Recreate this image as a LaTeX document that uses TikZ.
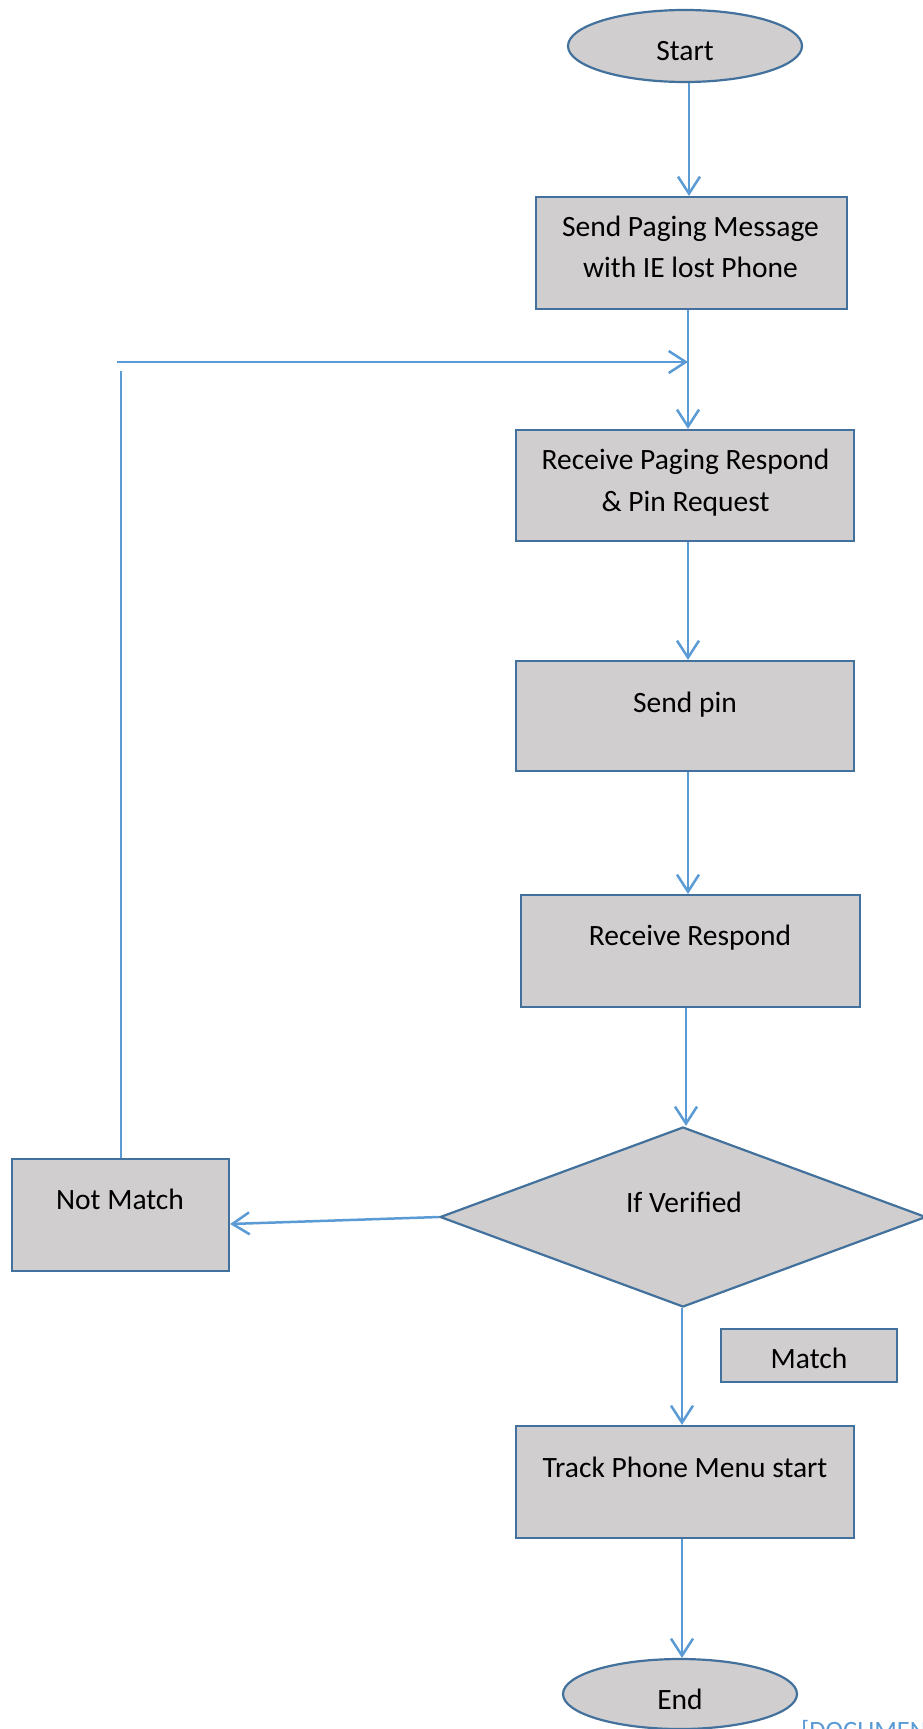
\documentclass[tikz,border=0pt]{standalone}
\usepackage{fontspec}
\setmainfont{Carlito}
\usetikzlibrary{arrows.meta,shapes.geometric}
\definecolor{connblue}{HTML}{5B9BD5}
\definecolor{edgeblue}{HTML}{41719C}
\definecolor{boxfill}{HTML}{D0CECE}
\begin{document}
\begin{tikzpicture}[x=1pt,y=1pt,
  box/.style={rectangle,draw=edgeblue,fill=boxfill,line width=2.2pt,inner sep=0pt},
  oval/.style={ellipse,draw=edgeblue,fill=boxfill,line width=2.2pt,inner sep=0pt},
  decision/.style={diamond,draw=edgeblue,fill=boxfill,line width=2.2pt,inner sep=0pt},
  txt/.style={font=\fontsize{29.5}{41}\selectfont,inner sep=0pt,anchor=base},
  link/.style={draw=connblue,line width=2.5pt},
  arr/.style={link,-{Straight Barb[length=17pt,width=22pt]}},
  thin/.style={draw=connblue,line width=1.3pt}]
\path[use as bounding box] (0,0) rectangle (923,-1729);
\clip (0,0) rectangle (923,-1729);

% shapes
\node[oval,minimum width=234,minimum height=72] (start) at (685,-46) {};
\node[box,minimum width=311,minimum height=112] (box1) at (691.5,-253) {};
\node[box,minimum width=338,minimum height=111] (box2) at (685,-485.5) {};
\node[box,minimum width=338,minimum height=110] (box3) at (685,-716) {};
\node[box,minimum width=339,minimum height=112] (box4) at (690.5,-951) {};
\node[decision,minimum width=486,minimum height=180] (dec) at (683,-1217) {};
\node[box,minimum width=217,minimum height=112] (notmatch) at (120.5,-1215) {};
\node[box,minimum width=176,minimum height=53] (match) at (809,-1355.5) {};
\node[box,minimum width=338,minimum height=112] (track) at (685,-1482) {};
\node[oval,minimum width=234,minimum height=70] (finish) at (680,-1694) {};

% texts
\node[txt] (tstart) at (685,-60) {Start};
\node[txt] (t1a) at (690.5,-236) {Send Paging Message};
\node[txt] (t1b) at (690.5,-277) {with IE lost Phone};
\node[txt] (t2a) at (685.5,-469) {Receive Paging Respond};
\node[txt] (t2b) at (685.5,-511) {\& Pin Request};
\node[txt] (t3) at (685,-712) {Send pin};
\node[txt] (t4) at (690,-945) {Receive Respond};
\node[txt] (tdec) at (684,-1212) {If Verified};
\node[txt] (tnm) at (120,-1209) {Not Match};
\node[txt] (tm) at (809,-1368) {Match};
\node[txt] (ttr) at (685,-1477) {Track Phone Menu start};
\node[txt] (tend) at (680,-1709) {End};
\node[txt,font=\fontsize{26.5}{32}\selectfont,anchor=base west,text=connblue] (doc) at (801,-1739) {[DOCUMEN};

% connectors
\coordinate (c0) at (689,0);
\draw[arr] (start.south -| c0) -- (box1.north -| c0);
\coordinate (c1) at (688,0);
\draw[arr] (box1.south -| c1) -- (box2.north -| c1);
\draw[arr] (box2.south -| c1) -- (box3.north -| c1);
\draw[arr] (box3.south -| c1) -- (box4.north -| c1);
\coordinate (c2) at (686,0);
\draw[arr] (box4.south -| c2) -- (dec.north -| c2);
\coordinate (c3) at (682,0);
\draw[arr] (dec.south -| c3) -- (track.north -| c3);
\draw[arr] (track.south -| c3) -- (finish.north -| c3);
\draw[arr] (dec.west) -- ([yshift=-9pt]notmatch.east);
% loop back
\coordinate (loopa) at (117,-362);
\coordinate (loopb) at (688,-362);
\draw[arr] (loopa) -- (loopb);
\coordinate (loopc) at (121,-371);
\draw[thin] (notmatch.north -| loopc) -- (loopc);
\end{tikzpicture}
\end{document}
